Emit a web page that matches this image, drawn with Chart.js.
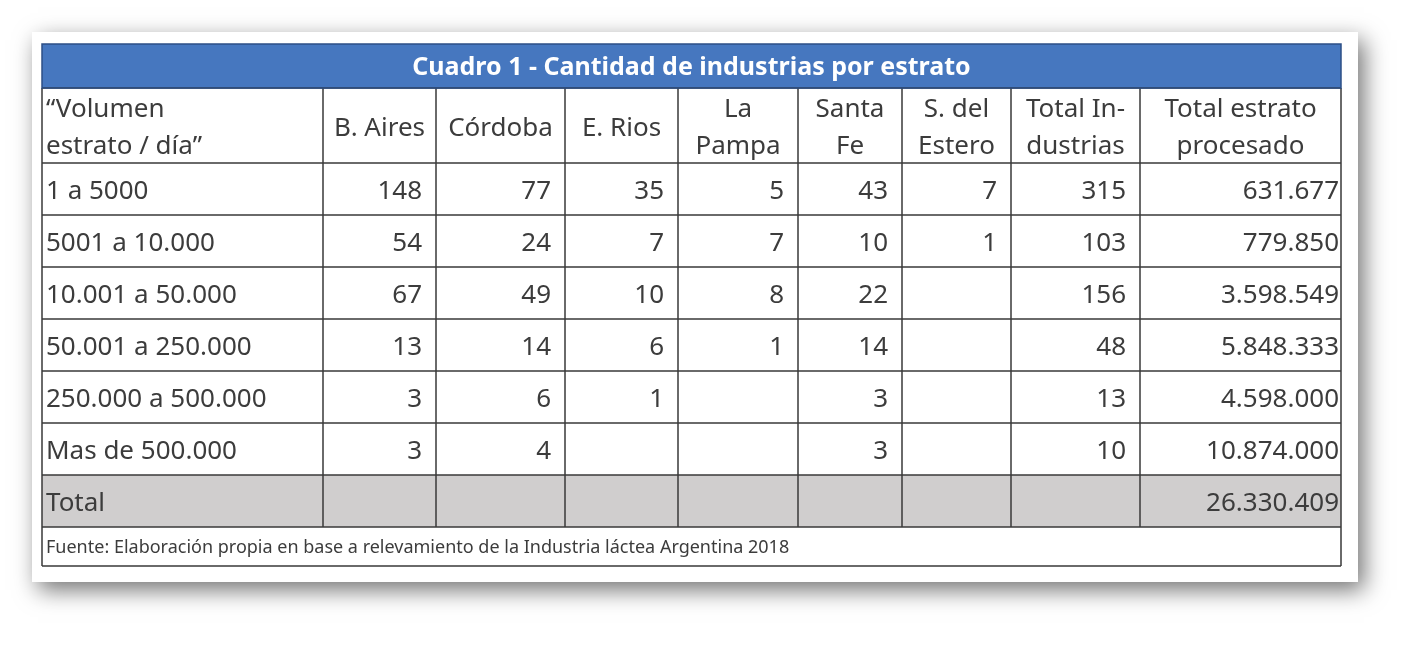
<!DOCTYPE html>
<html><head><meta charset="utf-8">
<script src="https://cdn.jsdelivr.net/npm/chart.js@4"></script>
<style>html,body{margin:0;padding:0;background:#fff}#w{width:1423px;height:648px}</style>
</head><body><div id="w"><canvas id="c"></canvas></div>
<script>
const title = "Cuadro 1 - Cantidad de industrias por estrato";
const headers = [["“Volumen","estrato / día”"],["B. Aires"],["Córdoba"],["E. Rios"],["La","Pampa"],["Santa","Fe"],["S. del","Estero"],["Total In-","dustrias"],["Total estrato","procesado"]];
const categories = ["1 a 5000","5001 a 10.000","10.001 a 50.000","50.001 a 250.000","250.000 a 500.000","Mas de 500.000"];
const bAires = [148,54,67,13,3,3];
const cordoba = [77,24,49,14,6,4];
const eRios = [35,7,10,6,1,null];
const laPampa = [5,7,8,1,null,null];
const santaFe = [43,10,22,14,3,3];
const sEstero = [7,1,null,null,null,null];
const totalInd = [315,103,156,48,13,10];
const totalEstrato = ["631.677","779.850","3.598.549","5.848.333","4.598.000","10.874.000"];
const totalLabel = "Total";
const totalValue = "26.330.409";
const source = "Fuente: Elaboración propia en base a relevamiento de la Industria láctea Argentina 2018";

const colX = [42,323,436,565,678,798,902,1011,1140,1341];
const rowY = [44,88,163,215,267,319,371,423,475,527,566];
const FONT = '"Noto Sans", "Open Sans", sans-serif';

const tablePlugin = {
  id:'table',
  beforeDraw(chart){
    const c = chart.ctx, xs = chart.scales.x, ys = chart.scales.y;
    const X = v=>xs.getPixelForValue(v), Y = v=>ys.getPixelForValue(v);
    c.save();
    c.shadowColor='rgba(0,0,0,0.55)'; c.shadowBlur=22; c.shadowOffsetX=6; c.shadowOffsetY=8;
    c.fillStyle='#fff'; c.fillRect(X(32),Y(32),X(1358)-X(32),Y(582)-Y(32));
    c.restore(); c.save();
    c.fillStyle='#4677BF'; c.fillRect(X(42),Y(44),X(1341)-X(42),Y(88)-Y(44));
    c.fillStyle='#fff'; c.font='bold 25px '+FONT; c.textAlign='center'; c.textBaseline='middle';
    c.fillText(title,(X(42)+X(1341))/2,Y(68));
    c.fillStyle='#D0CECE'; c.fillRect(X(42),Y(475),X(1341)-X(42),Y(527)-Y(475));
    c.strokeStyle='#3a3a3a'; c.lineWidth=1.5;
    c.beginPath();
    for(let i=1;i<rowY.length;i++){c.moveTo(X(42),Y(rowY[i]));c.lineTo(X(1341),Y(rowY[i]));}
    for(let j=0;j<colX.length;j++){
      const bottom = (j===0||j===colX.length-1)?566:527;
      c.moveTo(X(colX[j]),Y(88));c.lineTo(X(colX[j]),Y(bottom));
    }
    c.stroke();
    c.strokeStyle='#2d4f86'; c.strokeRect(X(42),Y(44),X(1341)-X(42),Y(88)-Y(44));
    c.fillStyle='#3c3c3c'; c.font='26px '+FONT; c.textBaseline='middle';
    headers.forEach((h,j)=>{
      const cx = j===0?X(colX[0])+4:(X(colX[j])+X(colX[j+1]))/2;
      c.textAlign = j===0?'left':'center';
      if(h.length===1) c.fillText(h[0],cx,Y(129));
      else {c.fillText(h[0],cx,Y(110));c.fillText(h[1],cx,Y(147));}
    });
    const cols=[bAires,cordoba,eRios,laPampa,santaFe,sEstero,totalInd,totalEstrato];
    categories.forEach((cat,i)=>{
      const cy=(Y(rowY[i+2])+Y(rowY[i+3]))/2+3;
      c.textAlign='left'; c.fillText(cat,X(colX[0])+4,cy);
      c.textAlign='right';
      cols.forEach((arr,j)=>{ if(arr[i]!=null) c.fillText(String(arr[i]),X(colX[j+2])-14+(j===7?12:0),cy); });
    });
    const ty=(Y(475)+Y(527))/2+3;
    c.textAlign='left'; c.fillText(totalLabel,X(colX[0])+4,ty);
    c.textAlign='right'; c.fillText(totalValue,X(1341)-2,ty);
    c.font='18px '+FONT; c.textAlign='left';
    c.fillText(source,X(46),Y(548));
    c.restore();
  }
};

new Chart(document.getElementById('c'),{
  type:'scatter',
  data:{datasets:[{data:[]}]},
  options:{
    responsive:true, maintainAspectRatio:false, animation:false,
    layout:{padding:0},
    plugins:{legend:{display:false},tooltip:{enabled:false}},
    scales:{
      x:{type:'linear',min:0,max:1423,display:false},
      y:{type:'linear',min:0,max:648,reverse:true,display:false}
    }
  },
  plugins:[tablePlugin]
});
</script></body></html>
